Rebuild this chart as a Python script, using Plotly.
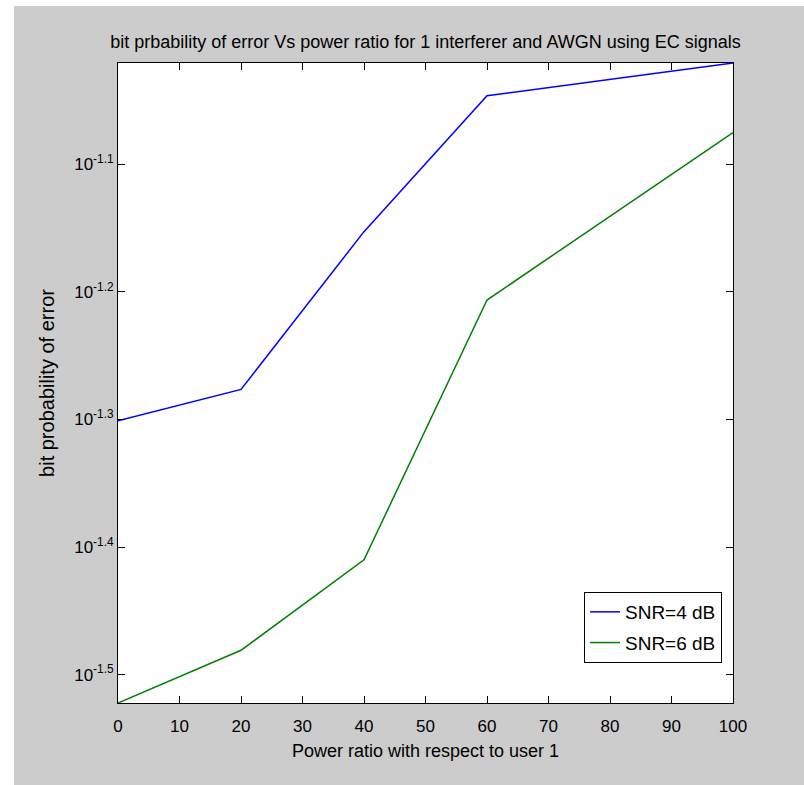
import plotly.graph_objects as go

power_ratio = [0, 20, 40, 60, 100]
pe_snr4 = [0.0500, 0.05291, 0.07035, 0.0899, 0.09539]
pe_snr6 = [0.03004, 0.03304, 0.0389, 0.06218, 0.08414]
series_names = ["SNR=4 dB", "SNR=6 dB"]
x_ticks = [0, 10, 20, 30, 40, 50, 60, 70, 80, 90, 100]
y_tick_exps = ["-1.5", "-1.4", "-1.3", "-1.2", "-1.1"]

FONT = "Liberation Sans, Arial, sans-serif"
GRAY = "#cccccc"

fig = go.Figure()
fig.add_trace(go.Scatter(x=power_ratio, y=pe_snr4, mode="lines", name=series_names[0],
                         legendgroup="a", line=dict(color="#0000ff", width=1.5)))
fig.add_trace(go.Scatter(x=power_ratio, y=pe_snr6, mode="lines", name=series_names[1],
                         legendgroup="b", line=dict(color="#008000", width=1.5)))

L, R, T, B = 118, 71, 63, 82
W, H = 804, 785
pw, ph = W - L - R, H - T - B

def px_to_paper_x(px):
    return (px - L) / pw

def py_to_paper_y(py):
    return (H - B - py) / ph

fig.update_layout(
    width=W, height=H,
    margin=dict(l=L, r=R, t=T, b=B, pad=0),
    paper_bgcolor=GRAY,
    plot_bgcolor="white",
    font=dict(family=FONT, size=16, color="black"),
    title=dict(text="bit prbability of error Vs power ratio for 1 interferer and AWGN using EC signals",
               x=0.5, xref="paper", xanchor="center", y=1 - 42 / H, yanchor="middle",
               font=dict(family=FONT, size=18, color="black")),
    showlegend=True,
    legend=dict(x=px_to_paper_x(722), y=py_to_paper_y(663), xanchor="right", yanchor="bottom",
                bgcolor="white", bordercolor="black", borderwidth=1,
                font=dict(family=FONT, size=19, color="black"),
                traceorder="grouped", tracegroupgap=3),
    xaxis=dict(range=[0, 100], tickvals=x_ticks, ticktext=[str(v) for v in x_ticks],
               showgrid=False, zeroline=False, showline=True, linecolor="black", linewidth=1,
               mirror="ticks", ticks="inside", ticklen=7, tickcolor="black",
               ticklabelstandoff=8,
               tickfont=dict(family=FONT, size=17, color="black"),
               title=dict(text="Power ratio with respect to user 1", standoff=8,
                          font=dict(family=FONT, size=18, color="black"))),
    yaxis=dict(type="log", range=[-1.5223, -1.0205],
               tickvals=[10 ** float(e) for e in y_tick_exps],
               ticktext=["10<sup>" + e + "</sup>" for e in y_tick_exps],
               showgrid=False, zeroline=False, showline=True, linecolor="black", linewidth=1,
               mirror="ticks", ticks="inside", ticklen=7, tickcolor="black",
               tickfont=dict(family=FONT, size=17, color="black"),
               title=dict(text="bit probability of error", standoff=14,
                          font=dict(family=FONT, size=20, color="black"))),
    shapes=[
        dict(type="rect", xref="paper", yref="paper", layer="above",
             x0=px_to_paper_x(-5), x1=px_to_paper_x(14), y0=py_to_paper_y(H + 5), y1=py_to_paper_y(-5),
             fillcolor="white", line=dict(width=0)),
        dict(type="rect", xref="paper", yref="paper", layer="above",
             x0=px_to_paper_x(-5), x1=px_to_paper_x(W + 5), y0=py_to_paper_y(6), y1=py_to_paper_y(-5),
             fillcolor="white", line=dict(width=0)),
    ],
)

fig.write_html("out.html", config={"displayModeBar": False},
               post_script="document.body.style.margin='0';document.body.style.overflow='hidden';")
